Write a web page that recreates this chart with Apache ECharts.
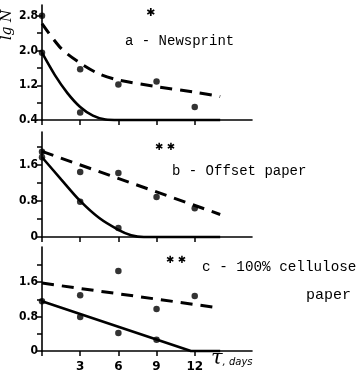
<!DOCTYPE html>
<html><head><meta charset="utf-8">
<script src="https://cdn.jsdelivr.net/npm/echarts@6/dist/echarts.min.js"></script>
<style>html,body{margin:0;padding:0;background:#fff}#c{width:362px;height:380px}</style>
</head><body><div id="c"></div>
<script>
// ---- data ----
const xTicks = [0, 3, 6, 9, 12];
const xTickLabels = [3, 6, 9, 12];
const yTicksA = [0.4, 0.8, 1.2, 1.6, 2.0, 2.4, 2.8];
const yLabelsA = [0.4, 1.2, 2.0, 2.8];
const yTicksBC = [0, 0.4, 0.8, 1.2, 1.6, 2.0];
const yLabelsBC = [0, 0.8, 1.6];

// a - Newsprint
const aDotsDashed = [[0, 2.8], [3, 1.57], [6, 1.22], [9, 1.29], [12, 0.70]];
const aDotsSolid = [[0, 1.95], [3, 0.57]];
const aCurveDashed = [[0, 2.62], [1.5, 2.05], [3, 1.71], [4.5, 1.46], [6, 1.32], [9, 1.17], [12, 1.04], [14, 0.94]];
const aCurveSolid = [[0, 1.95], [1, 1.44], [2, 1.02], [3, 0.70], [4, 0.50], [5, 0.41], [6, 0.4], [14, 0.4]];

// b - Offset paper
const bDotsDashed = [[0, 1.89], [3, 1.44], [6, 1.42], [9, 0.89], [12, 0.64]];
const bDotsSolid = [[0, 1.77], [3, 0.78], [6, 0.2]];
const bCurveDashed = [[0, 1.9], [14, 0.5]];
const bCurveSolid = [[0, 1.77], [1.5, 1.28], [3, 0.8], [4.5, 0.42], [6, 0.16], [7, 0.04], [8, 0], [14, 0]];

// c - 100% cellulose paper
const cDotsDashed = [[3, 1.30], [6, 1.86], [9, 0.98], [12, 1.28]];
const cDotsSolid = [[0, 1.16], [3, 0.79], [6, 0.42], [9, 0.26]];
const cCurveDashed = [[0, 1.58], [14, 1.0]];
const cCurveSolid = [[0, 1.16], [11.7, 0], [14, 0]];

// ---- chart ----
const chart = echarts.init(document.getElementById('c'), null, {renderer: 'canvas'});
const black = '#000';
const grids = [
  {left: 42, width: 210, top: 5, height: 115},
  {left: 42, width: 210, top: 132, height: 105},
  {left: 42, width: 210, top: 247, height: 104}
];
function xAxis(i, labels) {
  return {
    type: 'value', gridIndex: i, min: 0, max: 16.5,
    axisLine: {lineStyle: {color: black, width: 1.6}},
    axisTick: {customValues: xTicks, length: 5, lineStyle: {color: black, width: 1.5}},
    axisLabel: labels ? {customValues: xTickLabels, color: black, fontSize: 12, fontWeight: 'bold',
      fontFamily: 'DejaVu Sans', margin: 10} : {show: false},
    splitLine: {show: false}
  };
}
function yAxis(i, min, max, ticks, labels) {
  return {
    type: 'value', gridIndex: i, min: min, max: max,
    axisLine: {show: true, lineStyle: {color: black, width: 1.6}},
    axisTick: {show: true, customValues: ticks, length: 5, lineStyle: {color: black, width: 1.5}},
    axisLabel: {customValues: labels, color: black, fontSize: 12, fontWeight: 'bold',
      fontFamily: 'DejaVu Sans Condensed', margin: 4,
      formatter: v => (Math.abs(v) < 1e-9 ? '0' : v.toFixed(1))},
    splitLine: {show: false}
  };
}
function curve(i, data, dashed, smooth) {
  return {
    type: 'line', xAxisIndex: i, yAxisIndex: i, data: data, symbol: 'none',
    smooth: smooth, clip: false,
    lineStyle: {color: black, width: dashed ? 3 : 2.6, type: dashed ? [12, 8] : 'solid', cap: 'butt'},
    z: 3
  };
}
function dots(i, data) {
  return {type: 'scatter', xAxisIndex: i, yAxisIndex: i, data: data, symbol: 'circle', symbolSize: 6.5,
    itemStyle: {color: black}, z: 4, clip: false};
}
const txt = (x, y, s, extra) => Object.assign({type: 'text', x: x, y: y,
  style: Object.assign({text: s, fill: black, font: '14px "Liberation Mono"', textVerticalAlign: 'middle'}, extra || {})});

chart.setOption({
  animation: false,
  backgroundColor: '#fff',
  grid: grids,
  xAxis: [xAxis(0, false), xAxis(1, false), xAxis(2, true)],
  yAxis: [yAxis(0, 0.4, 3.05, yTicksA, yLabelsA), yAxis(1, 0, 2.33, yTicksBC, yLabelsBC), yAxis(2, 0, 2.42, yTicksBC, yLabelsBC)],
  series: [
    curve(0, aCurveDashed, true, 0.3), curve(0, aCurveSolid, false, 0.3), dots(0, aDotsDashed), dots(0, aDotsSolid),
    curve(1, bCurveDashed, true, false), curve(1, bCurveSolid, false, 0.3), dots(1, bDotsDashed), dots(1, bDotsSolid),
    curve(2, cCurveDashed, true, false), curve(2, cCurveSolid, false, false),
    dots(2, cDotsDashed), dots(2, cDotsSolid)
  ],
  graphic: [
    txt(125, 41, 'a - Newsprint'),
    txt(172, 171, 'b - Offset paper'),
    txt(202, 267, 'c - 100% cellulose', {font: '14.3px "Liberation Mono"'}),
    txt(306, 295, 'paper', {font: '15px "Liberation Mono"'}),
    txt(146, 13, '\u2731', {font: 'bold 11px "DejaVu Sans"'}),
    txt(155, 147, '\u2731 \u2731', {font: 'bold 10px "DejaVu Sans"'}),
    txt(166, 260, '\u2731 \u2731', {font: 'bold 10px "DejaVu Sans"'}),
    {type: 'text', x: 7, y: 40, rotation: Math.PI / 2,
      style: {text: 'lg N', fill: black, font: 'italic 14px "DejaVu Serif"', textVerticalAlign: 'middle'}},
    {type: 'text', x: 211, y: 359,
      style: {text: '{t|\u03c4}{d|, days}', fill: black, textVerticalAlign: 'middle',
        rich: {t: {font: 'italic 21px "DejaVu Serif"', fill: black}, d: {font: 'italic 10px "DejaVu Sans"', fill: black, padding: [6, 0, 0, 0]}}}}
  ]
});
</script></body></html>
